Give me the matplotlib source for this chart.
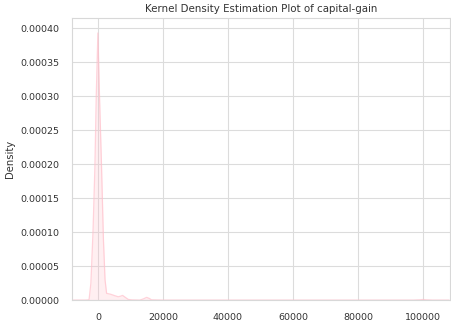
import matplotlib
matplotlib.use('Agg')
import matplotlib.pyplot as plt
import seaborn as sns

# density curve (capital-gain, x in dollars)
gain = [-8000, -4000, -3000, -2700, -2150, -1500, -920, -500, 0, 500, 1130, 1700,
        2200, 2680, 4000, 5200, 6250, 7000, 7600, 8300, 9340, 10500, 12900,
        14000, 15000, 15800, 16500, 20000, 40000, 60000, 80000, 97000, 99000,
        100000, 101000, 103000, 108000]
density = [0, 0, 0.0000002, 0.000001, 0.000025, 0.00010, 0.000195, 0.00030,
           0.000393, 0.00030, 0.000195, 0.00009, 0.00003, 0.00001, 0.0000085,
           0.0000065, 0.0000049, 0.0000058, 0.0000069, 0.0000045, 0.000001,
           0.0000003, 0, 0.0000018, 0.000004, 0.0000025, 0.0000004, 0, 0, 0, 0,
           0, 0.0000004, 0.0000009, 0.0000004, 0, 0]


def init():
    sns.set_theme(style='whitegrid')
    plt.rcParams['font.family'] = ['DejaVu Sans']
    fig = plt.figure(figsize=(4.52, 3.22), dpi=100)
    ax = fig.add_axes([0.159, 0.068, 0.8366, 0.876])
    return fig, ax


def plot():
    fig, ax = init()
    ax.fill_between(gain, density, color='pink', alpha=0.25, linewidth=0)
    ax.plot(gain, density, color='pink', alpha=0.7, linewidth=0.9)
    ax.set_xlim(-8000, 108300)
    ax.set_ylim(0, 0.000415)
    ax.set_xticks([0, 20000, 40000, 60000, 80000, 100000])
    ax.set_yticks([i * 0.00005 for i in range(9)])
    ax.set_yticklabels(['%.5f' % (i * 0.00005) for i in range(9)])
    ax.tick_params(labelsize=6.8, pad=3, labelcolor='#333333')
    ax.set_xlabel('capital-gain', fontsize=7.2, labelpad=4, color='#333333')
    ax.set_ylabel('Density', fontsize=7.2, labelpad=4, color='#333333')
    ax.set_title('Kernel Density Estimation Plot of capital-gain', fontsize=7.4,
                 pad=4, color='#333333')
    for s in ax.spines.values():
        s.set_linewidth(0.8)
        s.set_color('#d8d8d8')
    ax.grid(linewidth=0.8, color='#dcdcdc')
    fig.savefig('out.png', dpi=100)


if __name__ == '__main__':
    plot()
